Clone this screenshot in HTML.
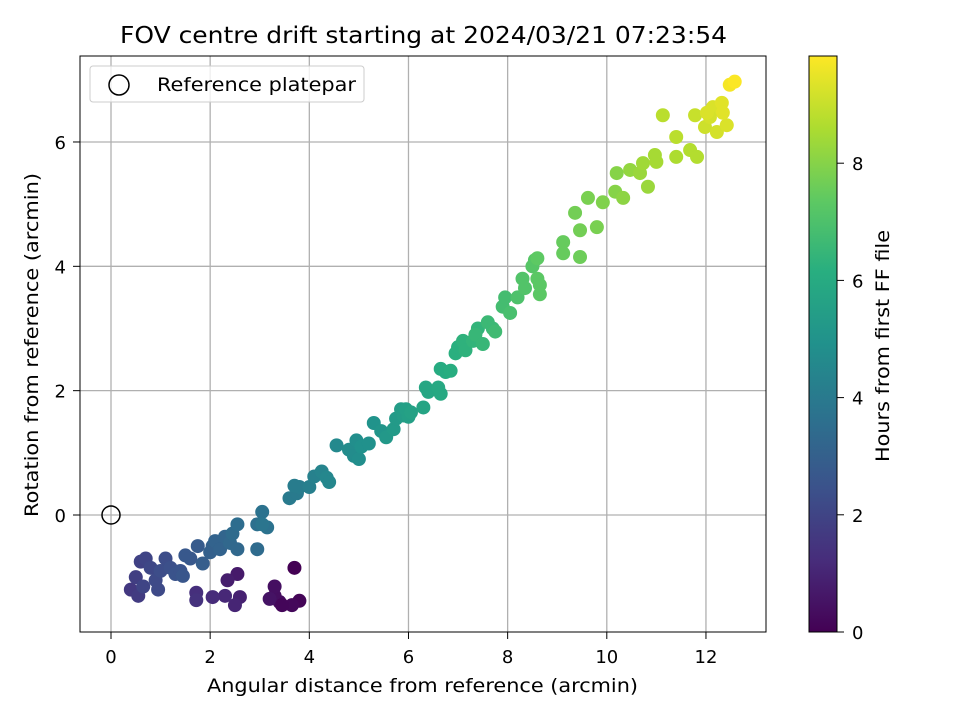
<!DOCTYPE html>
<html><head><meta charset="utf-8"><style>
html,body{margin:0;padding:0;background:#fff}
svg{display:block;font-family:"DejaVu Sans","Liberation Sans",sans-serif}
</style></head><body>
<svg id="chart" width="960" height="720" viewBox="0 0 960 720">
<defs><linearGradient id="vir" x1="0" y1="1" x2="0" y2="0">
<stop offset="0" stop-color="#440154"/><stop offset="0.125" stop-color="#472d7b"/><stop offset="0.25" stop-color="#3b528b"/><stop offset="0.375" stop-color="#2c728e"/><stop offset="0.5" stop-color="#21918c"/><stop offset="0.625" stop-color="#28ae80"/><stop offset="0.75" stop-color="#5ec962"/><stop offset="0.875" stop-color="#addc30"/><stop offset="1" stop-color="#fde725"/></linearGradient></defs>
<text x="120" y="43" font-size="23" textLength="607" lengthAdjust="spacingAndGlyphs">FOV centre drift starting at 2024/03/21 07:23:54</text>
<g id="grid"></g>
<g id="pts"></g>
<rect x="80" y="56" width="686" height="576" fill="none" stroke="#000" stroke-width="1"/>
<g id="ticks"></g>
<circle cx="111" cy="515" r="9" fill="none" stroke="#000" stroke-width="1.5"/>
<text x="207" y="692" font-size="19" textLength="431" lengthAdjust="spacingAndGlyphs">Angular distance from reference (arcmin)</text>
<text transform="translate(38,517) rotate(-90)" font-size="19" textLength="344" lengthAdjust="spacingAndGlyphs">Rotation from reference (arcmin)</text>
<g>
<rect x="90" y="66" width="274" height="36" rx="3" fill="#fff" fill-opacity="0.8" stroke="#ccc"/>
<circle cx="119" cy="85" r="10" fill="none" stroke="#000" stroke-width="1.5"/>
<text x="157" y="91" font-size="19" textLength="199" lengthAdjust="spacingAndGlyphs">Reference platepar</text>
</g>
<rect x="809" y="56" width="28" height="576" fill="url(#vir)" stroke="#000" stroke-width="1"/>
<g id="cticks"></g>
<text transform="translate(889,462) rotate(-90)" font-size="19" textLength="232" lengthAdjust="spacingAndGlyphs">Hours from first FF file</text>
</svg>
<script>
const xTicks=[0,2,4,6,8,10,12];
const yTicks=[0,2,4,6];
const cTicks=[0,2,4,6,8];
const xs=[3.7,3.8,3.65,3.4,3.3,3.3,3.2,3.45,2.55,2.35,2.6,2.5,2.3,2.05,1.72,1.72,
0.4,0.55,0.5,0.6,0.7,0.65,0.8,0.9,0.95,1.0,1.1,1.2,1.3,1.4,1.45,1.5,1.6,1.75,1.85,2.0,2.05,2.1,2.2,2.3,2.4,2.55,2.45,2.55,2.95,2.95,3.05,3.15,3.05,
3.6,3.75,3.8,3.7,4.0,4.1,4.25,4.35,4.4,4.55,4.8,4.9,4.95,5.0,5.05,5.2,5.3,5.45,5.55,5.7,5.75,5.85,5.9,6.0,5.95,6.05,6.3,6.35,6.4,6.6,6.65,6.65,6.75,6.85,6.95,7.0,7.1,7.15,7.3,7.4,7.35,7.5,7.6,7.7,7.75,7.9,7.95,8.05,8.2,8.3,8.35,8.5,8.55,8.6,8.65,8.65,
8.6,9.12,9.12,9.46,9.36,9.62,9.8,9.46,9.92,10.2,10.17,10.33,10.47,10.67,10.83,10.73,10.97,11.0,11.4,11.68,11.82,11.4,11.13,11.78,11.98,12.22,12.42,12.14,12.32,12.34,12.08,12.02,12.48,12.58];
const ys=[-0.85,-1.38,-1.45,-1.4,-1.3,-1.15,-1.35,-1.45,-0.95,-1.05,-1.32,-1.45,-1.3,-1.32,-1.25,-1.37,
-1.2,-1.3,-1.0,-0.75,-0.7,-1.15,-0.85,-1.05,-1.2,-0.9,-0.7,-0.85,-0.95,-0.9,-0.98,-0.65,-0.7,-0.5,-0.78,-0.6,-0.5,-0.42,-0.55,-0.35,-0.45,-0.55,-0.3,-0.15,-0.55,-0.15,0.05,-0.2,-0.15,
0.27,0.35,0.45,0.47,0.45,0.62,0.7,0.6,0.53,1.12,1.05,0.95,1.2,0.9,1.1,1.15,1.48,1.35,1.25,1.38,1.55,1.7,1.6,1.58,1.7,1.65,1.73,2.05,1.98,2.05,1.95,2.35,2.3,2.32,2.6,2.7,2.8,2.65,2.8,3.0,2.9,2.75,3.1,3.0,2.95,3.35,3.5,3.25,3.5,3.8,3.65,4.0,4.1,3.8,3.55,3.7,
4.13,4.39,4.21,4.15,4.86,5.1,4.63,4.58,5.03,5.5,5.2,5.1,5.55,5.5,5.28,5.66,5.79,5.68,5.76,5.87,5.76,6.08,6.43,6.43,6.24,6.16,6.27,6.56,6.63,6.47,6.4,6.47,6.92,6.97];
const hs=[0.0,0.1,0.2,0.3,0.35,0.4,0.5,0.15,0.7,0.8,0.9,1.0,1.1,1.2,1.3,1.4,
1.6,1.7,1.8,1.9,2.0,2.0,2.1,2.2,2.2,2.3,2.3,2.4,2.5,2.5,2.6,2.7,2.7,2.8,2.9,3.0,3.0,3.1,3.1,3.2,3.3,3.3,3.4,3.5,3.4,3.6,3.7,3.7,3.8,
4.0,4.0,4.1,4.1,4.2,4.3,4.4,4.5,4.5,4.6,4.7,4.7,4.8,4.8,4.9,4.9,5.0,5.1,5.2,5.3,5.3,5.4,5.4,5.5,5.5,5.6,5.7,5.8,5.8,5.9,5.9,6.0,6.0,6.1,6.2,6.2,6.3,6.3,6.4,6.4,6.5,6.5,6.6,6.6,6.7,6.8,6.8,6.9,7.0,7.1,7.1,7.2,7.2,7.3,7.3,7.3,
7.35,7.5,7.5,7.6,7.7,7.8,7.8,7.7,7.9,8.0,8.0,8.1,8.2,8.3,8.3,8.4,8.5,8.5,8.6,8.7,8.7,8.8,8.8,9.0,9.1,9.2,9.3,9.3,9.4,9.4,9.2,9.3,9.7,9.8];
const NS="http://www.w3.org/2000/svg";
const X=v=>111+v*49.58, Y=v=>515-v*62.17, C=v=>632-v*58.6;
const stops=["#440154","#472d7b","#3b528b","#2c728e","#21918c","#28ae80","#5ec962","#addc30","#fde725"];
function hex(h){return [1,3,5].map(i=>parseInt(h.substr(i,2),16));}
function vir(t){t=Math.max(0,Math.min(1,t))*8;const i=Math.min(7,Math.floor(t)),f=t-i;const a=hex(stops[i]),b=hex(stops[i+1]);return "rgb("+a.map((v,k)=>Math.round(v+(b[k]-v)*f)).join(",")+")";}
function mk(tag,at,parent){const e=document.createElementNS(NS,tag);for(const k in at)e.setAttribute(k,at[k]);parent.appendChild(e);return e;}
const grid=document.getElementById('grid'),ticks=document.getElementById('ticks'),pts=document.getElementById('pts'),ct=document.getElementById('cticks');
xTicks.forEach(v=>{
 const l=mk('line',{x1:X(v),x2:X(v),y1:56,y2:632,stroke:'#b0b0b0','stroke-width':1.3},grid);
 
 
 const t=mk('line',{x1:X(v),x2:X(v),y1:632,y2:639,stroke:'#000'},ticks);
 
 
 const s=mk('text',{x:X(v),y:663,'font-size':18,'text-anchor':'middle'},ticks);s.textContent=v;
 
 
});
yTicks.forEach(v=>{
 const l=mk('line',{x1:80,x2:766,y1:Y(v),y2:Y(v),stroke:'#b0b0b0','stroke-width':1.3},grid);
 
 
 const t=mk('line',{x1:73,x2:80,y1:Y(v),y2:Y(v),stroke:'#000'},ticks);
 
 
 const s=mk('text',{x:66,y:Y(v)+7,'font-size':18,'text-anchor':'end'},ticks);s.textContent=v;
 
 
});
cTicks.forEach(v=>{
 const t=mk('line',{x1:837,x2:844,y1:C(v),y2:C(v),stroke:'#000'},ct);
 
 
 const s=mk('text',{x:852,y:C(v)+7,'font-size':18},ct);s.textContent=v;
 
 
});
xs.forEach((v,i)=>{
 const c=mk('circle',{cx:X(v),cy:Y(ys[i]),r:7,fill:vir(hs[i]/9.83)},pts);
 
 
});
</script>
</body></html>
